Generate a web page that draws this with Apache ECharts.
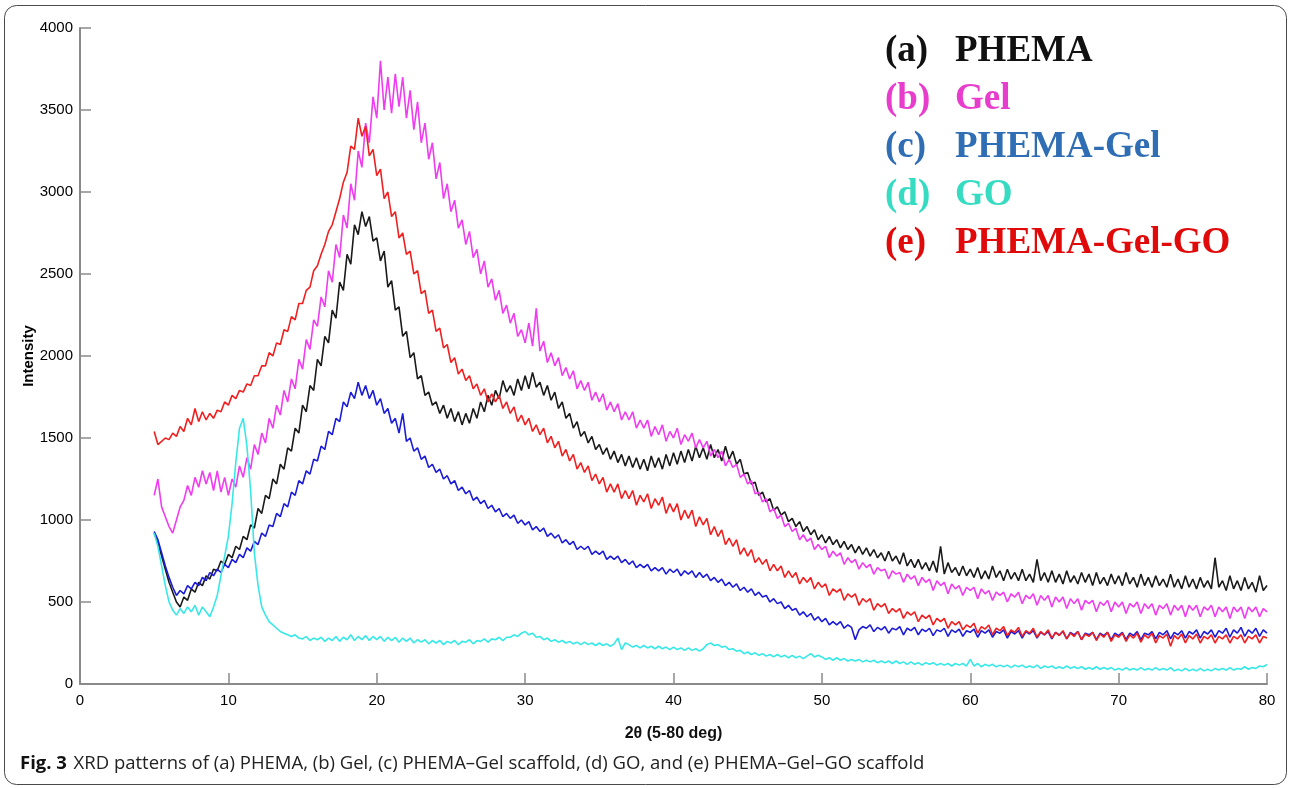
<!DOCTYPE html>
<html>
<head>
<meta charset="utf-8">
<title>XRD patterns</title>
<script src="https://cdn.jsdelivr.net/npm/echarts@6.0.0/dist/echarts.min.js"></script>
<style>
  html, body { margin: 0; padding: 0; background: #fff; }
  #chart { width: 1290px; height: 788px; }
</style>
</head>
<body>
<div id="chart"></div>
<script>
// 2θ sampling: 5 to 80 deg, every 0.25 deg (301 points)
var thetaStart = 5, thetaStep = 0.25, thetaCount = 301;

var seriesNames = ['(a)  PHEMA', '(b)  Gel', '(c)  PHEMA-Gel', '(d)  GO', '(e)  PHEMA-Gel-GO'];
var xTicks = [0, 10, 20, 30, 40, 50, 60, 70, 80];
var yTicks = [0, 500, 1000, 1500, 2000, 2500, 3000, 3500, 4000];

// (a) PHEMA
var phema = [
  920,860,780,700, 620,560,500,470, 530,510,580,560, 620,600,660,640, 700,690,750,730,
  790,770,840,820, 900,880,970,950, 1070,1040,1150,1130, 1250,1220,1340,1310, 1440,1420,1560,1530,
  1700,1660,1820,1790, 1980,1940,2120,2080, 2280,2230,2450,2400, 2620,2560,2800,2740, 2880,2790,2850,2700,
  2720,2580,2640,2420, 2460,2280,2300,2120, 2150,1990,2020,1860, 1880,1760,1780,1700, 1720,1650,1700,1620,
  1680,1600,1660,1580, 1650,1590,1680,1620, 1720,1660,1760,1700, 1790,1740,1850,1780, 1820,1760,1860,1790,
  1880,1800,1900,1810, 1840,1760,1820,1730, 1780,1680,1720,1620, 1650,1560,1600,1510, 1540,1470,1510,1430,
  1460,1400,1440,1370, 1420,1350,1400,1330, 1390,1320,1380,1310, 1370,1300,1390,1320, 1380,1310,1400,1330,
  1410,1340,1420,1350, 1430,1360,1450,1380, 1440,1370,1460,1380, 1430,1360,1450,1370, 1420,1340,1370,1280,
  1290,1220,1230,1150, 1170,1110,1130,1060, 1080,1030,1050,990, 1010,960,990,930, 960,910,940,880,
  910,860,900,850, 880,830,870,820, 850,800,840,790, 830,780,820,770, 800,750,810,750,
  780,730,800,720, 760,710,760,700, 740,690,750,680, 840,670,740,680, 710,660,720,660,
  700,650,710,640, 690,640,720,650, 690,630,700,640, 680,630,700,630, 670,620,760,630,
  680,620,690,620, 670,610,690,620, 660,610,680,620, 670,600,680,610, 650,600,670,610,
  660,600,680,610, 650,590,670,600, 650,590,660,600, 640,590,670,590, 640,580,660,590,
  640,580,650,590, 630,580,770,590, 630,570,660,580, 630,570,650,580, 620,560,660,570,
  600
];

// (b) Gel
var gel = [
  1150,1250,1080,1020, 960,920,1000,1080, 1120,1210,1150,1260, 1200,1300,1220,1290, 1180,1300,1170,1260,
  1150,1250,1200,1330, 1260,1380,1310,1460, 1400,1530,1470,1620, 1560,1700,1640,1790, 1720,1860,1800,1980,
  1920,2100,2040,2220, 2180,2360,2300,2520, 2450,2680,2600,2860, 2780,3050,2950,3250, 3150,3420,3300,3580,
  3450,3800,3500,3700, 3480,3720,3520,3700, 3450,3620,3380,3550, 3300,3420,3200,3300, 3080,3180,2960,3050,
  2880,2950,2780,2830, 2680,2760,2600,2650, 2500,2580,2420,2470, 2340,2400,2260,2310, 2200,2260,2120,2160,
  2080,2200,2060,2290, 2030,2090,1960,2020, 1940,1990,1880,1930, 1860,1910,1800,1850, 1790,1840,1730,1780,
  1720,1770,1670,1720, 1660,1710,1610,1660, 1610,1660,1560,1610, 1560,1610,1510,1570, 1520,1580,1480,1540,
  1500,1560,1460,1520, 1480,1530,1440,1490, 1440,1480,1390,1430, 1380,1420,1330,1370, 1320,1340,1260,1280,
  1220,1240,1160,1170, 1110,1130,1050,1070, 1010,1030,960,980, 930,950,880,910, 870,890,820,850,
  820,840,770,810, 780,800,730,770, 740,760,700,740, 710,730,670,710, 690,700,640,690,
  670,680,620,670, 640,660,600,650, 620,640,570,630, 600,620,550,610, 580,600,540,590,
  570,590,520,580, 550,570,510,560, 540,560,500,550, 530,560,490,540, 520,550,480,540,
  510,540,470,530, 500,530,460,520, 490,520,450,510, 490,510,440,500, 480,510,440,500,
  470,500,430,490, 470,500,430,490, 460,490,420,480, 460,490,420,480, 450,480,410,480,
  450,480,410,470, 450,480,410,470, 440,470,400,470, 440,470,400,470, 440,470,410,460,
  440
];

// (c) PHEMA-Gel
var phemaGel = [
  930,880,800,720, 650,590,540,570, 550,600,580,620, 600,650,630,680, 660,700,680,730,
  710,760,740,790, 770,830,810,870, 850,920,900,970, 960,1040,1020,1100, 1080,1170,1150,1240,
  1220,1300,1280,1370, 1360,1450,1430,1540, 1520,1620,1600,1720, 1690,1780,1740,1840, 1760,1820,1740,1790,
  1700,1740,1650,1680, 1590,1620,1530,1650, 1480,1500,1420,1440, 1370,1390,1320,1340, 1290,1310,1250,1270,
  1220,1240,1180,1200, 1160,1180,1120,1140, 1100,1120,1070,1090, 1050,1070,1020,1040, 1010,1030,980,1000,
  970,990,940,960, 930,950,900,920, 890,910,860,880, 850,870,820,840, 820,840,790,810,
  790,810,760,780, 760,780,740,760, 730,750,710,730, 710,730,690,710, 690,710,670,700,
  680,700,660,690, 670,690,650,680, 650,670,630,650, 620,640,600,620, 590,610,570,590,
  560,580,540,560, 530,540,500,520, 490,500,460,480, 450,460,420,440, 410,430,390,410,
  380,400,360,380, 360,380,340,360, 345,270,330,350, 340,360,320,345, 330,350,310,340,
  330,350,300,340, 325,345,300,335, 320,340,295,330, 320,340,290,330, 315,335,290,325,
  315,335,285,325, 310,330,285,320, 310,330,280,320, 305,325,280,320, 305,325,280,315,
  300,320,275,315, 300,320,275,315, 300,320,270,310, 300,315,270,310, 295,315,270,310,
  295,315,270,310, 295,320,270,310, 300,320,275,315, 300,325,275,315, 300,325,280,320,
  305,330,280,320, 305,330,285,325, 310,340,285,330, 310,345,290,330, 310,340,290,330,
  310
];

// (d) GO
var go = [
  920,840,720,600, 500,450,420,460, 430,470,440,480, 420,470,440,410, 470,540,660,780,
  900,1100,1350,1560, 1620,1450,1180,800, 600,470,420,380, 360,340,320,310, 300,290,300,280,
  275,290,265,280, 270,285,260,280, 265,290,260,285, 270,300,265,290, 270,295,265,290,
  270,290,260,285, 265,285,255,280, 260,280,250,270, 255,270,245,265, 250,265,240,260,
  250,265,240,260, 255,270,245,265, 260,275,255,275, 270,285,265,285, 285,300,290,310,
  320,300,310,285, 290,270,280,260, 270,255,265,250, 260,245,255,240, 255,240,250,235,
  250,235,245,230, 245,280,210,250, 240,225,235,220, 235,220,230,215, 230,215,225,210,
  225,210,220,205, 220,205,215,200, 215,240,250,235, 240,225,230,210, 215,200,205,185,
  195,180,190,175, 185,170,180,165, 180,165,175,160, 175,160,170,155, 170,185,165,175,
  165,150,160,145, 160,145,155,140, 150,140,150,135, 145,135,145,130, 140,130,140,125,
  140,125,135,120, 135,120,130,115, 130,120,130,115, 125,115,125,110, 125,115,125,110,
  150,110,125,105, 120,110,120,105, 115,105,115,100, 115,105,115,100, 110,100,115,95,
  110,100,110,95, 105,95,110,95, 105,95,105,90, 100,90,105,90, 100,90,100,85,
  95,85,100,85, 95,85,100,85, 95,85,100,85, 95,85,100,80, 90,80,95,80,
  90,80,95,80, 90,80,95,85, 95,85,100,85, 95,90,105,90, 100,95,110,105,
  120
];

// (e) PHEMA-Gel-GO
var phemaGelGo = [
  1540,1460,1480,1500, 1490,1530,1510,1570, 1540,1620,1580,1680, 1600,1660,1610,1650, 1620,1670,1660,1720,
  1700,1760,1740,1790, 1780,1830,1820,1880, 1880,1940,1940,2020, 2000,2080,2070,2160, 2150,2240,2220,2320,
  2320,2400,2420,2520, 2550,2620,2680,2760, 2800,2880,2960,3060, 3120,3280,3260,3450, 3340,3400,3220,3260,
  3100,3140,2960,3000, 2850,2880,2720,2750, 2620,2640,2500,2520, 2380,2400,2260,2280, 2150,2170,2050,2070,
  1960,1990,1890,1920, 1850,1880,1800,1830, 1760,1800,1720,1770, 1720,1760,1680,1720, 1650,1690,1600,1640,
  1580,1620,1540,1580, 1520,1560,1470,1510, 1440,1480,1390,1430, 1360,1400,1310,1350, 1290,1330,1240,1280,
  1220,1260,1170,1220, 1170,1220,1130,1180, 1130,1180,1090,1150, 1110,1160,1070,1130, 1090,1140,1040,1100,
  1050,1100,1000,1060, 1010,1060,960,1020, 970,1010,910,960, 900,940,850,890, 840,880,790,830,
  780,820,740,770, 730,760,690,730, 690,720,650,690, 650,680,610,650, 620,650,580,620,
  590,610,540,580, 560,580,510,550, 530,550,480,520, 500,520,450,490, 470,490,430,460,
  440,460,400,440, 420,440,380,420, 400,420,360,400, 380,400,340,380, 360,380,330,360,
  345,370,310,350, 335,360,300,340, 325,350,295,330, 315,345,290,325, 310,340,285,320,
  300,330,280,315, 295,325,275,310, 290,320,270,305, 290,315,265,305, 285,315,260,300,
  285,310,260,300, 280,310,255,300, 280,310,250,295, 280,305,230,295, 275,305,250,295,
  275,305,250,290, 275,300,250,290, 275,300,250,290, 275,300,250,290, 275,300,250,290,
  280
];

var lineColors = ['#1a1a1a', '#f03cf0', '#1c1cd8', '#38e8e8', '#f02020'];
var legendColors = ['#111111', '#e83ccc', '#2f6db4', '#36dcc2', '#e00a0a'];

initChart();

function toPairs(vals) {
  var out = [];
  for (var i = 0; i < thetaCount && i < vals.length; i++) {
    out.push([thetaStart + i * thetaStep, vals[i]]);
  }
  return out;
}

function initChart() {
  var chart = echarts.init(document.getElementById('chart'));
  var allVals = [phema, gel, phemaGel, go, phemaGelGo];
  var axisGray = '#8a8a8a';
  var labelFont = 'Liberation Sans, Arial, sans-serif';

  var series = [];
  for (var i = 0; i < allVals.length; i++) {
    series.push({
      name: seriesNames[i],
      type: 'line',
      data: toPairs(allVals[i]),
      symbol: 'none',
      sampling: false,
      lineStyle: { color: lineColors[i], width: 1.6 },
      itemStyle: { color: lineColors[i] }
    });
  }

  var legendData = seriesNames.map(function (n, i) {
    return { name: n, textStyle: { color: legendColors[i] } };
  });

  chart.setOption({
    animation: false,
    backgroundColor: '#fff',
    grid: { left: 80, right: 23, top: 28, bottom: 104, containLabel: false, outerBoundsMode: 'none' },
    legend: {
      orient: 'vertical',
      left: 875,
      top: 28,
      itemWidth: 0,
      itemHeight: 0,
      itemGap: 11,
      icon: 'rect',
      selectedMode: false,
      data: legendData,
      formatter: function (name) {
        var p = name.split('  ');
        return '{t|' + p[0] + '}{n|' + p[1] + '}';
      },
      textStyle: {
        fontFamily: 'Liberation Serif, Times New Roman, serif',
        fontWeight: 'bold',
        fontSize: 37,
        rich: {
          t: { width: 70, fontFamily: 'Liberation Serif', fontWeight: 'bold', fontSize: 37, lineHeight: 35 },
          n: { fontFamily: 'Liberation Serif', fontWeight: 'bold', fontSize: 37, lineHeight: 35 }
        }
      }
    },
    xAxis: {
      type: 'value',
      min: xTicks[0],
      max: xTicks[xTicks.length - 1],
      interval: 10,
      name: '2θ (5-80 deg)',
      nameLocation: 'middle',
      nameGap: 42,
      nameTextStyle: { fontFamily: labelFont, fontSize: 16, fontWeight: 'bold', color: '#111' },
      axisLine: { lineStyle: { color: axisGray, width: 2 } },
      axisTick: { inside: true, length: 11, lineStyle: { color: axisGray, width: 1.5 } },
      axisLabel: { fontFamily: labelFont, fontSize: 15, color: '#000', margin: 9 },
      splitLine: { show: false }
    },
    yAxis: {
      type: 'value',
      min: yTicks[0],
      max: yTicks[yTicks.length - 1],
      interval: 500,
      name: 'Intensity',
      nameLocation: 'middle',
      nameGap: 44,
      nameMoveOverlap: false,
      nameRotate: 90,
      nameTextStyle: { fontFamily: labelFont, fontSize: 15, fontWeight: 'bold', color: '#000' },
      axisLine: { show: true, lineStyle: { color: axisGray, width: 2 } },
      axisTick: { show: true, inside: true, length: 11, lineStyle: { color: axisGray, width: 1.5 } },
      axisLabel: {
        fontFamily: labelFont, fontSize: 15, color: '#000', margin: 7,
        formatter: function (v) { return String(v); }
      },
      splitLine: { show: false }
    },
    graphic: [
      {
        type: 'rect',
        silent: true,
        z: -1,
        shape: { x: 4.5, y: 5.5, width: 1282, height: 779, r: 12 },
        style: { fill: 'none', stroke: '#4a4a4a', lineWidth: 1 }
      },
      {
        type: 'text',
        left: 20,
        top: 754,
        style: {
          text: '{b|Fig. 3}  {r|XRD patterns of (a) PHEMA, (b) Gel, (c) PHEMA–Gel scaffold, (d) GO, and (e) PHEMA–Gel–GO scaffold}',
          rich: {
            b: { fontFamily: 'Open Sans, Noto Sans, sans-serif', fontWeight: 'bold', fontSize: 18.5, fill: '#111' },
            r: { fontFamily: 'Open Sans, Noto Sans, sans-serif', fontSize: 18.5, fill: '#222' }
          }
        }
      }
    ],
    series: series
  });
}
</script>
</body>
</html>
